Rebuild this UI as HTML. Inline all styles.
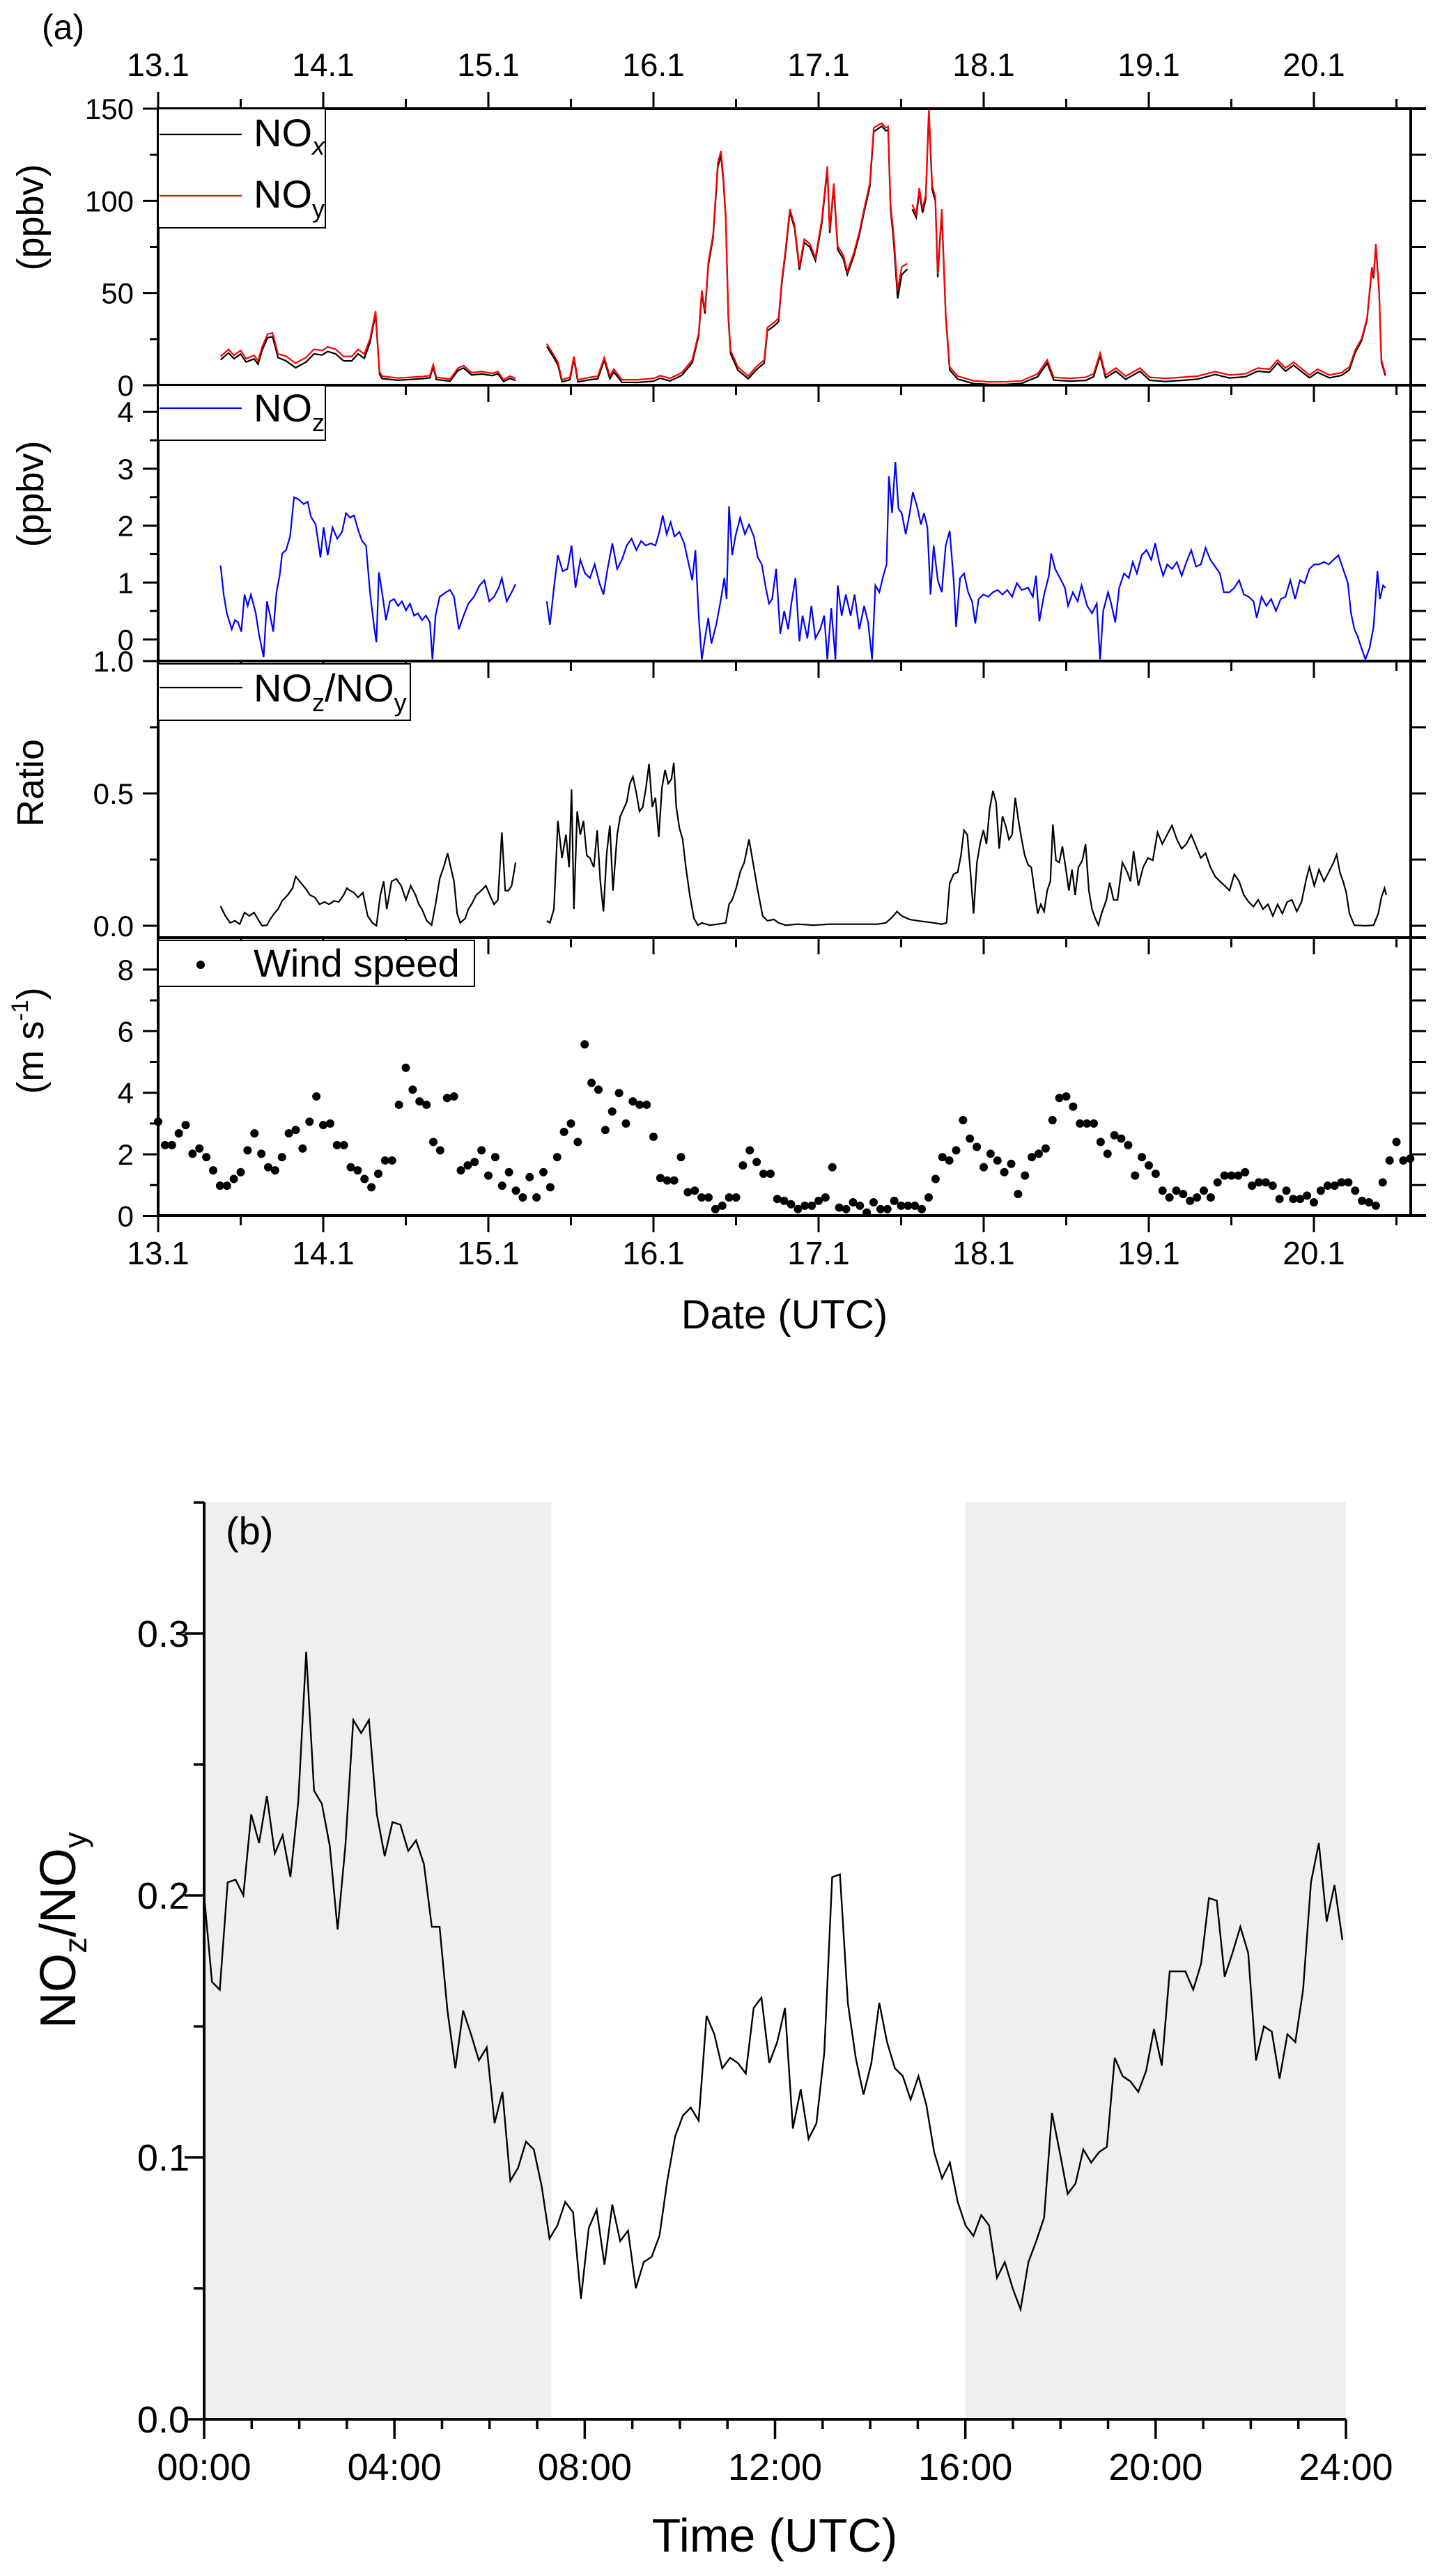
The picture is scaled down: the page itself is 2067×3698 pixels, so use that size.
<!DOCTYPE html>
<html><head><meta charset="utf-8"><style>
html,body{margin:0;padding:0;background:#fff}
svg{display:block}
text{font-family:"Liberation Sans",Arial,sans-serif;fill:#000}
</style></head><body>
<svg id="chart" xmlns="http://www.w3.org/2000/svg" width="2067" height="3698" viewBox="0 0 2067 3698">
<rect x="0" y="0" width="2067" height="3698" fill="#fff"/>
<text x="60" y="56" font-size="50">(a)</text>
<text x="1126" y="1907" font-size="58" text-anchor="middle">Date (UTC)</text>
<text transform="translate(62,312) rotate(-90)" font-size="54" text-anchor="middle">(ppbv)</text>
<text transform="translate(62,709) rotate(-90)" font-size="54" text-anchor="middle">(ppbv)</text>
<text transform="translate(62,1124) rotate(-90)" font-size="54" text-anchor="middle">Ratio</text>
<text transform="translate(62,1494) rotate(-90)" font-size="54" text-anchor="middle">(m s<tspan font-size="34" dy="-22">-1</tspan><tspan dy="22">)</tspan></text>
<g id="shade"></g>
<text x="324" y="2217" font-size="56">(b)</text>
<text x="1112" y="3663" font-size="68" text-anchor="middle">Time (UTC)</text>
<text transform="translate(108,2771) rotate(-90)" font-size="72" text-anchor="middle">NO<tspan font-size="46" dy="16">z</tspan><tspan dy="-16">/NO</tspan><tspan font-size="46" dy="16">y</tspan></text>
</svg>
<script>
// ---------- Panel (a) data: days since 13.1 00:00 ----------
const noDays = [0.378,0.426,0.46,0.499,0.533,0.581,0.605,0.63,0.663,0.693,0.726,0.775,0.833,0.896,0.944,0.993,1.027,1.075,1.123,1.172,1.211,1.249,1.283,1.317,1.341,
1.356,1.453,1.598,1.646,1.666,1.685,1.768,1.816,1.85,1.898,1.961,2.024,2.058,2.092,2.131,2.165,null,
2.354,2.397,2.421,2.446,2.494,2.518,2.542,2.615,2.663,2.702,2.736,2.76,2.809,2.906,3.002,3.041,3.099,3.172,3.235,3.274,3.293,3.312,3.332,3.361,3.39,3.409,3.424,3.438,3.453,3.467,3.511,3.574,3.622,3.671,3.69,3.729,3.758,3.777,3.801,3.826,3.855,3.884,3.913,3.947,3.981,4.019,4.053,4.068,4.092,4.116,4.15,4.174,4.213,4.247,4.276,4.31,4.334,4.358,4.383,4.407,4.421,4.436,4.455,4.479,4.504,4.538,null,
4.567,4.591,4.61,4.63,4.649,4.668,4.688,4.707,4.722,4.746,4.77,4.794,4.843,4.939,5.036,5.133,5.23,5.327,5.385,5.424,5.521,5.617,5.666,5.705,5.738,5.801,5.86,5.947,6.005,6.102,6.199,6.295,6.402,6.489,6.586,6.659,6.731,6.78,6.828,6.877,6.973,7.022,7.094,7.167,7.215,7.249,7.288,7.322,7.351,7.361,7.375,7.395,7.409,7.433];
const noyVals = [15.6,19.4,16.2,18.8,14.4,16.2,13.1,20.8,27.7,28.3,17.0,15.7,11.9,15.1,19.5,18.8,20.8,19.5,15.6,15.6,19.4,16.9,25.1,40.2,7.3,
4.9,3.9,4.7,5.2,11.2,4.3,3.3,9.3,10.6,6.8,7.4,6.4,7.4,3.0,4.9,3.7,null,
22.5,16.2,12.5,3.0,4.3,15.6,3.0,4.3,4.9,15.0,4.9,8.7,3.0,3.0,3.7,5.2,3.7,6.8,13.7,28.2,51.5,40.2,66.6,81.7,120.7,127,111.9,91.8,38.9,18.8,9.9,4.9,9.9,13.7,31.3,33.9,36.4,56.5,74.2,95.6,86.7,64.1,79.2,76.7,69.1,89.3,118.8,84.2,109.4,75.4,70.4,61.6,71.6,83.0,95.6,109.4,139.6,140.9,142.1,139.6,140.3,98.1,81.7,51.5,64.1,66.0,null,
98.1,93,106.9,95.6,103.1,149.7,108.2,101.9,60.3,95.6,38.9,9.9,4.9,2.4,1.8,1.8,2.4,6.2,13.7,4.3,3.7,4.3,6.2,17.5,5.5,9.3,4.9,9.3,4.3,3.7,4.3,4.9,7.4,5.5,6.2,9.3,8.7,13.7,9.3,12.5,5.5,8.7,5.5,6.8,9.9,18.8,25.1,36.4,64.1,59,76.7,51.5,13.7,6.2];
const noxVals = [13.8,17.5,14.4,16.9,12.6,14.3,11.4,19.0,25.8,26.3,15.0,13.2,9.5,12.6,17.0,16.4,18.3,17.0,13.2,13.2,17.0,14.6,23.2,38.5,6.0,
3.6,2.7,3.5,4.0,10.0,3.1,2.2,8.0,9.3,5.6,6.1,5.2,6.2,2.0,3.7,2.6,null,
21.0,14.8,11.0,1.8,3.0,14.2,1.8,3.0,3.5,13.6,3.5,7.2,1.6,1.5,2.2,3.8,2.3,5.4,12.2,26.8,50.0,38.8,65.0,80.0,118.5,124.5,110.0,90.0,37.0,17.0,8.2,3.5,8.3,12.0,29.5,32.0,34.5,55.0,72.5,94.0,85.0,62.5,77.5,75.0,67.5,87.5,117.0,82.5,107.5,73.5,68.5,60.0,70.0,81.5,94.0,107.5,137.5,139.0,140.5,138.0,138.5,96.0,78.0,47.0,60.0,63.0,null,
95.5,91,105,93.5,101,148,106,100,58.5,94,37.5,8.3,3.3,0.9,0.4,0.4,1.0,4.6,12.0,2.8,2.2,2.6,4.6,16.0,4.0,7.6,3.2,7.6,2.7,2.0,2.6,3.3,5.8,3.9,4.6,7.6,7.0,12.0,7.6,10.8,4.0,7.0,4.0,5.3,8.4,17.5,24.0,35.5,63.0,58.0,75.5,50.5,12.5,5.2];

const nozDays = [0.378,0.397,0.416,0.446,0.465,0.484,0.504,0.523,0.542,0.562,0.591,0.61,0.639,0.659,0.678,0.697,0.717,0.736,0.751,0.775,0.799,0.823,0.852,0.881,0.906,0.925,0.954,0.983,1.002,1.027,1.056,1.085,1.114,1.138,1.162,1.186,1.211,1.235,1.259,1.283,1.308,1.322,1.337,1.356,1.38,1.404,1.429,1.453,1.477,1.501,1.525,1.55,1.574,1.598,1.622,1.646,1.661,1.68,1.705,1.743,1.768,1.792,1.821,1.85,1.879,1.913,1.947,1.976,2.005,2.034,2.063,2.082,2.111,2.141,2.165,null,
2.354,2.373,2.397,2.421,2.45,2.479,2.504,2.528,2.557,2.586,2.615,2.644,2.673,2.697,2.722,2.751,2.78,2.809,2.838,2.867,2.896,2.925,2.954,2.983,3.012,3.036,3.056,3.08,3.104,3.128,3.157,3.186,3.211,3.235,3.254,3.274,3.293,3.312,3.332,3.351,3.38,3.409,3.429,3.443,3.458,3.477,3.496,3.525,3.554,3.579,3.608,3.632,3.656,3.68,3.7,3.719,3.743,3.768,3.792,3.816,3.835,3.86,3.884,3.903,3.932,3.956,3.981,4.01,4.034,4.053,4.077,4.102,4.116,4.14,4.165,4.194,4.218,4.247,4.276,4.3,4.324,4.344,4.368,4.392,4.412,4.426,4.445,4.465,4.484,4.504,4.528,4.552,4.571,4.596,4.62,4.639,4.659,4.678,4.697,4.722,4.746,4.77,4.794,4.818,4.833,4.857,4.881,4.906,4.93,4.949,4.969,4.998,5.027,5.056,5.085,5.114,5.143,5.172,5.201,5.23,5.269,5.298,5.317,5.337,5.366,5.395,5.409,5.433,5.462,5.492,5.511,5.54,5.569,5.593,5.627,5.656,5.685,5.705,5.724,5.753,5.772,5.797,5.821,5.85,5.879,5.903,5.928,5.957,5.986,6.015,6.039,6.063,6.087,6.112,6.141,6.17,6.199,6.228,6.257,6.286,6.315,6.344,6.373,6.402,6.431,6.455,6.489,6.518,6.547,6.576,6.605,6.634,6.654,6.683,6.712,6.741,6.77,6.799,6.828,6.857,6.886,6.915,6.944,6.973,7.002,7.031,7.061,7.09,7.119,7.148,7.177,7.206,7.225,7.245,7.264,7.288,7.312,7.337,7.361,7.385,7.4,7.419,7.433];
const nozVals = [1.30,0.79,0.46,0.18,0.34,0.30,0.14,0.79,0.59,0.79,0.46,0.10,-0.31,0.67,0.42,0.14,0.83,1.12,1.51,1.57,1.81,2.50,2.46,2.38,2.42,2.16,2.02,1.44,1.97,1.48,1.97,1.77,1.89,2.22,2.14,2.18,1.93,1.73,1.65,0.83,0.22,-0.05,1.18,0.83,0.34,0.67,0.71,0.59,0.67,0.51,0.63,0.42,0.46,0.34,0.42,0.30,-0.35,0.42,0.75,0.83,0.87,0.75,0.18,0.42,0.63,0.75,0.95,1.04,0.67,0.75,0.91,1.08,0.67,0.83,0.97,null,
0.67,0.26,0.91,1.48,1.20,1.24,1.65,0.91,1.40,1.16,1.08,1.32,0.99,0.79,1.24,1.69,1.24,1.40,1.65,1.77,1.57,1.73,1.65,1.69,1.65,1.89,2.18,1.85,2.06,1.81,1.89,1.69,1.36,1.04,1.57,0.42,-0.35,0.02,0.38,-0.07,0.26,0.71,1.08,0.71,2.34,1.48,1.81,2.14,1.85,2.02,1.81,1.44,1.32,0.91,0.63,0.71,1.24,0.10,0.50,0.18,0.63,1.08,-0.03,0.42,0.02,0.59,0.02,0.18,0.42,-0.35,0.55,-0.35,0.95,0.42,0.79,0.42,0.79,0.18,0.59,0.30,-0.35,0.95,0.83,1.12,1.32,2.87,2.22,3.12,2.30,2.22,1.85,2.22,2.59,2.34,2.02,2.22,1.97,0.79,1.65,1.04,0.83,1.65,1.91,1.04,0.22,1.08,1.16,0.83,0.67,0.28,0.71,0.79,0.75,0.83,0.87,0.79,0.87,0.75,0.99,0.87,0.91,0.75,1.12,0.32,0.79,1.12,1.51,1.24,1.08,0.91,0.59,0.83,0.67,0.95,0.59,0.46,0.63,-0.35,0.50,0.83,0.63,0.30,0.91,1.16,1.08,1.36,1.16,1.48,1.57,1.40,1.69,1.36,1.12,1.32,1.24,1.36,1.12,1.36,1.57,1.28,1.32,1.61,1.40,1.28,1.16,0.83,0.83,0.91,1.04,0.79,0.75,0.67,0.38,0.75,0.59,0.71,0.50,0.71,0.75,1.04,0.71,1.04,0.99,1.24,1.32,1.32,1.36,1.32,1.40,1.48,1.24,0.99,0.46,0.18,0.06,-0.15,-0.35,-0.15,0.22,1.20,0.71,0.95,0.91];

const ratioDays = [0.378,0.407,0.436,0.465,0.494,0.523,0.552,0.581,0.61,0.63,0.659,0.678,0.702,0.726,0.751,0.785,0.814,0.833,0.862,0.891,0.92,0.949,0.978,1.007,1.036,1.065,1.094,1.123,1.143,1.162,1.186,1.211,1.24,1.269,1.298,1.322,1.346,1.366,1.385,1.414,1.443,1.472,1.501,1.53,1.559,1.579,1.598,1.627,1.656,1.68,1.705,1.729,1.753,1.772,1.792,1.811,1.83,1.86,1.879,1.898,1.927,1.956,1.985,2.015,2.034,2.058,2.082,2.102,2.121,2.141,2.165,null,
2.354,2.373,2.397,2.421,2.446,2.47,2.489,2.504,2.518,2.538,2.557,2.576,2.596,2.615,2.639,2.659,2.678,2.697,2.717,2.736,2.755,2.78,2.799,2.818,2.838,2.857,2.876,2.896,2.915,2.935,2.954,2.973,2.993,3.012,3.032,3.051,3.07,3.09,3.109,3.123,3.138,3.157,3.177,3.196,3.22,3.245,3.269,3.293,3.341,3.39,3.438,3.458,3.477,3.501,3.525,3.55,3.579,3.603,3.632,3.661,3.69,3.729,3.758,3.801,3.874,3.971,4.068,4.165,4.262,4.358,4.407,4.445,4.475,4.504,4.552,4.6,4.649,4.697,4.746,4.775,4.794,4.818,4.843,4.862,4.881,4.901,4.92,4.939,4.959,4.978,4.998,5.017,5.036,5.056,5.075,5.094,5.114,5.133,5.153,5.172,5.191,5.211,5.23,5.249,5.269,5.288,5.308,5.327,5.346,5.366,5.385,5.404,5.419,5.438,5.458,5.477,5.496,5.516,5.535,5.554,5.574,5.598,5.617,5.637,5.656,5.676,5.695,5.714,5.743,5.763,5.787,5.811,5.84,5.869,5.889,5.908,5.937,5.966,5.995,6.024,6.053,6.082,6.111,6.14,6.17,6.199,6.228,6.257,6.286,6.315,6.344,6.373,6.402,6.431,6.46,6.489,6.518,6.547,6.576,6.605,6.634,6.663,6.692,6.722,6.751,6.78,6.809,6.838,6.867,6.896,6.925,6.954,6.973,7.002,7.031,7.061,7.09,7.119,7.138,7.157,7.177,7.196,7.215,7.245,7.312,7.361,7.39,7.409,7.428,7.438];
const ratioVals = [0.074,0.037,0.011,0.019,0.006,0.050,0.037,0.050,0.019,0,0.002,0.024,0.046,0.063,0.094,0.116,0.142,0.186,0.164,0.142,0.116,0.107,0.081,0.090,0.081,0.094,0.090,0.116,0.142,0.133,0.125,0.107,0.125,0.037,0.011,0,0.116,0.168,0.063,0.168,0.177,0.151,0.098,0.151,0.116,0.081,0.063,0.019,0.002,0.081,0.177,0.221,0.274,0.221,0.168,0.046,0.011,0.028,0.063,0.081,0.116,0.133,0.151,0.107,0.081,0.098,0.353,0.133,0.133,0.151,0.239,null,
0.019,0.011,0.063,0.396,0.256,0.344,0.221,0.515,0.063,0.432,0.344,0.396,0.265,0.256,0.221,0.361,0.168,0.054,0.274,0.379,0.133,0.344,0.414,0.440,0.467,0.537,0.563,0.502,0.432,0.449,0.519,0.611,0.449,0.484,0.335,0.519,0.589,0.537,0.554,0.616,0.449,0.370,0.326,0.221,0.116,0.028,0.002,0.011,0.002,0.006,0.011,0.081,0.098,0.142,0.203,0.239,0.326,0.239,0.133,0.037,0.019,0.024,0.011,0.002,0.006,0.002,0.006,0.006,0.006,0.006,0.011,0.032,0.054,0.037,0.024,0.019,0.015,0.011,0.006,0.011,0.160,0.195,0.203,0.265,0.361,0.344,0.203,0.046,0.239,0.309,0.361,0.309,0.440,0.510,0.467,0.291,0.414,0.379,0.326,0.344,0.484,0.396,0.326,0.265,0.230,0.221,0.133,0.046,0.081,0.054,0.133,0.168,0.383,0.247,0.239,0.300,0.221,0.133,0.212,0.116,0.221,0.247,0.309,0.133,0.063,0.028,0.002,0.046,0.098,0.164,0.098,0.098,0.239,0.203,0.168,0.282,0.151,0.221,0.256,0.247,0.353,0.309,0.344,0.379,0.326,0.291,0.309,0.344,0.300,0.256,0.274,0.221,0.186,0.168,0.151,0.133,0.195,0.168,0.116,0.090,0.072,0.098,0.063,0.081,0.037,0.081,0.046,0.090,0.098,0.054,0.090,0.177,0.221,0.151,0.212,0.168,0.203,0.239,0.269,0.203,0.168,0.125,0.046,0.002,0,0.002,0.046,0.107,0.142,0.116];

// hourly wind speed (m/s) starting 13.1 00:00
const windStartDay = 0;
const windVals = [3.06,2.3,2.3,2.68,2.95,2.02,2.19,1.91,1.48,0.98,0.98,1.2,1.42,2.13,2.68,2.02,1.58,1.48,1.91,2.68,2.79,2.19,3.06,3.88,2.95,3.0,2.3,2.3,1.58,1.48,1.2,0.93,1.37,1.8,1.8,3.61,4.81,4.1,3.72,3.61,2.4,2.13,3.83,3.88,1.48,1.64,1.75,2.13,1.31,1.91,0.98,1.42,0.82,0.6,1.26,0.6,1.42,0.93,1.91,2.73,3.0,2.4,5.57,4.32,4.1,2.79,3.39,3.99,3.0,3.72,3.61,3.61,2.57,1.23,1.15,1.15,1.91,0.77,0.82,0.6,0.6,0.22,0.33,0.6,0.6,1.64,2.13,1.75,1.37,1.37,0.55,0.49,0.38,0.22,0.33,0.33,0.49,0.6,1.58,0.27,0.22,0.44,0.33,0.11,0.44,0.22,0.22,0.49,0.33,0.33,0.33,0.22,0.6,1.2,1.91,1.8,2.13,3.11,2.51,2.24,1.58,2.02,1.8,1.42,1.69,0.71,1.31,1.91,2.02,2.19,3.11,3.83,3.88,3.55,3.0,3.0,3.0,2.4,2.02,2.62,2.51,2.3,1.31,1.91,1.64,1.37,0.82,0.6,0.82,0.71,0.49,0.6,0.82,0.6,1.09,1.31,1.31,1.31,1.42,0.98,1.09,1.09,0.98,0.55,0.82,0.55,0.55,0.66,0.44,0.82,0.98,0.98,1.09,1.09,0.82,0.49,0.44,0.33,1.09,1.8,2.4,1.8,1.86];

// ---------- Panel (b) data: mean diurnal NOz/NOy ----------
const diurnalVals = [0.200,0.167,0.164,0.205,0.206,0.200,0.231,0.220,0.238,0.216,0.223,0.207,0.236,0.293,0.240,0.235,0.219,0.187,0.219,0.267,0.262,0.267,0.231,0.215,0.228,0.227,0.217,0.221,0.212,0.188,0.188,0.156,0.134,0.156,0.147,0.137,0.142,0.113,0.125,0.091,0.096,0.106,0.103,0.089,0.069,0.074,0.083,0.079,0.046,0.073,0.080,0.059,0.082,0.068,0.072,0.050,0.060,0.062,0.070,0.091,0.108,0.116,0.119,0.114,0.154,0.147,0.134,0.138,0.136,0.132,0.157,0.161,0.136,0.144,0.157,0.111,0.126,0.107,0.113,0.140,0.207,0.208,0.159,0.138,0.124,0.136,0.159,0.144,0.134,0.131,0.122,0.131,0.120,0.102,0.092,0.098,0.083,0.074,0.070,0.078,0.074,0.054,0.060,0.050,0.042,0.060,0.068,0.077,0.117,0.102,0.086,0.090,0.103,0.098,0.102,0.104,0.138,0.131,0.129,0.125,0.133,0.149,0.135,0.171,0.171,0.171,0.164,0.174,0.199,0.198,0.169,0.178,0.188,0.178,0.137,0.150,0.148,0.130,0.147,0.144,0.164,0.205,0.220,0.190,0.204,0.183];
const diurnalStepHours = 0.165;
const nightStarts = [0, 16];
const nightEnds = [7.3, 24];

const topTickLabels = ["13.1","14.1","15.1","16.1","17.1","18.1","19.1","20.1"];
const p1Ticks = [0,50,100,150];
const p2Ticks = [0,1,2,3,4];
const p3Ticks = ["0.0","0.5","1.0"];
const p4Ticks = [0,2,4,6,8];
const bYTicks = ["0.0","0.1","0.2","0.3"];
const bXTicks = ["00:00","04:00","08:00","12:00","16:00","20:00","24:00"];

// ---------- scales ----------
const NS = "http://www.w3.org/2000/svg";
const svg = document.getElementById('chart');
const XL = 227, XR = 2025, DAYPX = 237;
const xa = d => XL + d * DAYPX;
const y1 = v => 553 - v * 2.6467;
const y2 = v => 918 - v * 81.7;
const y3 = v => 1329 - v * 380;
const y4 = v => 1745.5 - v * 44.2;
const BX0 = 293, BX1 = 1932, BY0 = 3473, BTOP = 2156;
const xb = h => BX0 + h * (BX1 - BX0) / 24;
const yb = v => BY0 - v * 3760;

function mk(tag, attrs, parent) {
  const e = document.createElementNS(NS, tag);
  for (const k in attrs) e.setAttribute(k, attrs[k]);
  (parent || svg).appendChild(e);
  return e;
}
function pathFrom(xs, vs, xf, yf) {
  let d = "", pen = false;
  for (let i = 0; i < xs.length; i++) {
    if (xs[i] === null || vs[i] === null) { pen = false; continue; }
    d += (pen ? "L" : "M") + xf(xs[i]).toFixed(1) + "," + yf(vs[i]).toFixed(1);
    pen = true;
  }
  return d;
}

// ---------- panel (b) shading ----------
const shadeG = document.getElementById('shade');
for (let i = 0; i < nightStarts.length; i++) {
  const r = mk('rect', {x: xb(nightStarts[i]), y: BTOP, width: xb(nightEnds[i]) - xb(nightStarts[i]), height: BY0 - BTOP, fill: '#efefef'}, shadeG);
  
  
}

// ---------- clip for panel 2 ----------
const defs = mk('defs', {});
const cp = mk('clipPath', {id: 'clip2'}, defs);
mk('rect', {x: XL, y: 553, width: XR - XL, height: 396}, cp);

// ---------- series panel (a) ----------
const noxPath = mk('path', {d: pathFrom(noDays, noxVals, xa, y1), fill: 'none', stroke: '#000', 'stroke-width': 2.2});


const noyPath = mk('path', {d: pathFrom(noDays, noyVals, xa, y1), fill: 'none', stroke: '#ff0000', 'stroke-width': 2.2});


const nozPath = mk('path', {d: pathFrom(nozDays, nozVals, xa, y2), fill: 'none', stroke: '#0000ff', 'stroke-width': 2.2, 'clip-path': 'url(#clip2)'});


const ratioPath = mk('path', {d: pathFrom(ratioDays, ratioVals, xa, y3), fill: 'none', stroke: '#000', 'stroke-width': 2.2});


const windG = mk('g', {});


for (let i = 0; i < windVals.length; i++) {
  const c = mk('circle', {cx: xa(windStartDay + i / 24), cy: y4(windVals[i]), r: 6, fill: '#000'}, windG);
  
  
}

// ---------- axes panel (a) ----------
const axG = mk('g', {stroke: '#000', 'stroke-width': 3, fill: 'none'});


const hLines = [156, 553, 949, 1346, 1745];
for (const y of hLines) {
  const l = mk('line', {x1: XL - 2, x2: 2047, y1: y, y2: y, 'stroke-width': 4}, axG);
  
  
}
for (const x of [XL, XR]) {
  const l = mk('line', {x1: x, x2: x, y1: 156, y2: 1745, 'stroke-width': 4}, axG);
  
  
}
// x ticks
for (let k = 0; k <= 15; k++) {
  const d = k * 0.5, x = xa(d), major = (k % 2 === 0);
  const L = major ? 24 : 14;
  const t1 = mk('line', {x1: x, x2: x, y1: 156, y2: 156 - L}, axG);
  
  
  for (const y of [553, 949, 1346]) {
    const t = mk('line', {x1: x, x2: x, y1: y, y2: y + L}, axG);
    
    
  }
  const t2 = mk('line', {x1: x, x2: x, y1: 1745, y2: 1745 + L}, axG);
  
  
}
for (let i = 0; i < topTickLabels.length; i++) {
  const t = mk('text', {x: xa(i), y: 109, 'font-size': 46, 'text-anchor': 'middle', stroke: 'none', fill: '#000'});
  t.textContent = topTickLabels[i];
  
  
  const b = mk('text', {x: xa(i), y: 1815, 'font-size': 46, 'text-anchor': 'middle', stroke: 'none', fill: '#000'});
  b.textContent = topTickLabels[i];
  
  
}
// y ticks helper
function yTicks(vals, yf, majorEvery, minV, maxV, name) {
  for (let v = minV; v <= maxV + 1e-9; v += majorEvery / 2) {
    const y = yf(v);
    const major = Math.abs((v / majorEvery) - Math.round(v / majorEvery)) < 1e-6;
    const L = major ? 22 : 12;
    const a = mk('line', {x1: XL, x2: XL - L, y1: y, y2: y}, axG);
    
    
    const b = mk('line', {x1: XR, x2: XR + 22, y1: y, y2: y}, axG);
    
    
  }
}
yTicks(p1Ticks, y1, 50, 0, 150, 'nox');
yTicks(p2Ticks, y2, 1, 0, 4, 'noz');
yTicks(p3Ticks, y3, 0.5, 0, 1, 'ratio');
yTicks(p4Ticks, y4, 2, 0, 8, 'wind');
function yLabels(vals, yf, name) {
  for (const v of vals) {
    const t = mk('text', {x: 192, y: yf(parseFloat(v)) + 15, 'font-size': 42, 'text-anchor': 'end'});
    t.textContent = String(v);
    
    
  }
}
yLabels(p1Ticks, y1, 'nox');
yLabels(p2Ticks, y2, 'noz');
yLabels(p3Ticks, y3, 'ratio');
yLabels(p4Ticks, y4, 'wind');

// ---------- legends ----------
function legendBox(x, y, w, h, name) {
  const r = mk('rect', {x: x, y: y, width: w, height: h, fill: '#fff', stroke: '#000', 'stroke-width': 2});
  
  
}
legendBox(227, 156, 240, 171, 'legend-nox-noy');
const l1 = mk('line', {x1: 229, x2: 347, y1: 193, y2: 193, stroke: '#000', 'stroke-width': 2.2});


const l2 = mk('line', {x1: 229, x2: 347, y1: 281, y2: 281, stroke: '#ff0000', 'stroke-width': 2.2});


const lt1 = mk('text', {x: 364, y: 210, 'font-size': 56});
lt1.innerHTML = 'NO<tspan font-size="36" dy="12" font-style="italic">x</tspan>';


const lt2 = mk('text', {x: 364, y: 298, 'font-size': 56});
lt2.innerHTML = 'NO<tspan font-size="36" dy="14">y</tspan>';



legendBox(227, 553, 240, 79, 'legend-noz');
const l3 = mk('line', {x1: 229, x2: 347, y1: 586, y2: 586, stroke: '#0000ff', 'stroke-width': 2.2});


const lt3 = mk('text', {x: 364, y: 605, 'font-size': 56});
lt3.innerHTML = 'NO<tspan font-size="36" dy="14">z</tspan>';



legendBox(227, 953, 362, 81, 'legend-ratio');
const l4 = mk('line', {x1: 229, x2: 348, y1: 987, y2: 987, stroke: '#000', 'stroke-width': 2.2});


const lt4 = mk('text', {x: 364, y: 1007, 'font-size': 56});
lt4.innerHTML = 'NO<tspan font-size="36" dy="14">z</tspan><tspan dy="-14">/NO</tspan><tspan font-size="36" dy="14">y</tspan>';



legendBox(227, 1350, 454, 66, 'legend-wind');
const ld = mk('circle', {cx: 288, cy: 1385, r: 6, fill: '#000'});


const lt5 = mk('text', {x: 364, y: 1402, 'font-size': 56});
lt5.textContent = 'Wind speed';



// ---------- panel (b) ----------
const dTimes = diurnalVals.map((v, i) => i * diurnalStepHours);
const dPath = mk('path', {d: pathFrom(dTimes, diurnalVals, xb, yb), fill: 'none', stroke: '#000', 'stroke-width': 2.4});


const bAx = mk('g', {stroke: '#000', 'stroke-width': 3.5, fill: 'none'});


const byl = mk('line', {x1: BX0, x2: BX0, y1: BTOP, y2: BY0 + 2, 'stroke-width': 4}, bAx);


const bxl = mk('line', {x1: BX0 - 2, x2: BX1, y1: BY0, y2: BY0, 'stroke-width': 4}, bAx);


for (let k = 0; k <= 7; k++) {
  const v = k * 0.05, y = yb(v), major = (k % 2 === 0);
  const t = mk('line', {x1: BX0, x2: BX0 - (major ? 28 : 15), y1: y, y2: y}, bAx);
  
  
}
for (const s of bYTicks) {
  const t = mk('text', {x: 272, y: yb(parseFloat(s)) + 19, 'font-size': 54, 'text-anchor': 'end'});
  t.textContent = s;
  
  
}
for (let h = 0; h <= 24; h++) {
  const major = (h % 4 === 0);
  const t = mk('line', {x1: xb(h), x2: xb(h), y1: BY0, y2: BY0 + (major ? 28 : 14)}, bAx);
  
  
}
for (let i = 0; i < bXTicks.length; i++) {
  const t = mk('text', {x: xb(i * 4), y: 3560, 'font-size': 54, 'text-anchor': 'middle'});
  t.textContent = bXTicks[i];
  
  
}
</script>
</body></html>
